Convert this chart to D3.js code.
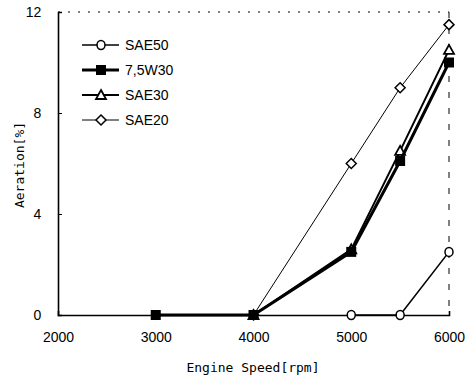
<!DOCTYPE html>
<html>
<head>
<meta charset="utf-8">
<script src="https://cdn.jsdelivr.net/npm/d3@7"></script>
<style>
  body { margin: 0; background: #fff; }
  text { fill: #000; }
</style>
</head>
<body>
<svg id="chart" width="467" height="381"></svg>
<script>
const speeds = [2000, 3000, 4000, 5000, 5500, 6000];
const sae50 = [0, 0, 0, 0, 0, 2.5];
const w30 = [0, 0, 0, 2.5, 6.1, 10];
const sae30 = [0, 0, 0, 2.6, 6.5, 10.5];
const sae20 = [0, 0, 0, 6, 9, 11.5];
const xTicks = [2000, 3000, 4000, 5000, 6000];
const yTicks = [0, 4, 8, 12];

const series = [
  { name: 'SAE50', values: sae50, marker: 'circle', width: 1.6, from: 3 },
  { name: '7,5W30', values: w30, marker: 'square', width: 3, from: 1 },
  { name: 'SAE30', values: sae30, marker: 'triangle', width: 2, from: 2 },
  { name: 'SAE20', values: sae20, marker: 'diamond', width: 1, from: 2 }
];

const sans = '"Liberation Sans", Arial, sans-serif';
const mono = '"DejaVu Sans Mono", monospace';

const svg = d3.select('#chart');
const x = d3.scaleLinear().domain([2000, 6000]).range([58, 449]);
const y = d3.scaleLinear().domain([0, 12]).range([315, 12]);

// frame: top and right dashed
svg.append('line').attr('x1', x(2000)).attr('x2', x(6000)).attr('y1', y(12)).attr('y2', y(12))
  .attr('stroke', '#000').attr('stroke-dasharray', '2,8');
svg.append('line').attr('x1', x(6000)).attr('x2', x(6000)).attr('y1', y(12)).attr('y2', y(0))
  .attr('stroke', '#000').attr('stroke-dasharray', '6,10');

const yAxis = svg.append('g').attr('transform', `translate(${x(2000)},0)`)
  .call(d3.axisLeft(y).tickValues(yTicks).tickSize(-4).tickPadding(14).tickFormat(d3.format('d')));
const xAxis = svg.append('g').attr('transform', `translate(0,${y(0)})`)
  .call(d3.axisBottom(x).tickValues(xTicks).tickSize(-4).tickPadding(14).tickFormat(d3.format('d')));
[yAxis, xAxis].forEach(a => {
  a.select('.domain').attr('stroke-width', 1.6);
  a.selectAll('text').style('font-size', '14px').style('font-family', sans);
});
xAxis.selectAll('.tick text').attr('dy', '0.9em');
yAxis.selectAll('.tick text').attr('dx', '-0.2em');

svg.append('text').attr('x', 253).attr('y', 372).attr('text-anchor', 'middle')
  .style('font-size', '13px').style('font-family', mono).text('Engine Speed[rpm]');
svg.append('text').attr('transform', 'translate(24,165) rotate(-90)').attr('text-anchor', 'middle')
  .style('font-size', '13px').style('font-family', mono).text('Aeration[%]');

function drawMarker(g, type, cx, cy) {
  if (type === 'circle') {
    g.append('ellipse').attr('cx', cx).attr('cy', cy).attr('rx', 4).attr('ry', 4.5)
      .attr('fill', '#fff').attr('stroke', '#000').attr('stroke-width', 1.5);
  } else if (type === 'square') {
    g.append('rect').attr('x', cx - 5).attr('y', cy - 5).attr('width', 10).attr('height', 10)
      .attr('fill', '#000');
  } else if (type === 'triangle') {
    g.append('path').attr('d', `M${cx},${cy - 5}L${cx + 5},${cy + 4}L${cx - 5},${cy + 4}Z`)
      .attr('fill', '#fff').attr('stroke', '#000').attr('stroke-width', 1.8);
  } else {
    g.append('path').attr('d', `M${cx},${cy - 5}L${cx + 5},${cy}L${cx},${cy + 5}L${cx - 5},${cy}Z`)
      .attr('fill', '#fff').attr('stroke', '#000').attr('stroke-width', 1.5);
  }
}

const line = d3.line().x(d => x(d[0])).y(d => y(d[1]));
// draw SAE50 last so its circles sit on top of the axis markers
[series[3], series[2], series[1], series[0]].forEach(s => {
  const pts = speeds.map((v, i) => [v, s.values[i]]);
  const g = svg.append('g');
  g.append('path').attr('d', line(pts.slice(s.from))).attr('fill', 'none')
    .attr('stroke', '#000').attr('stroke-width', s.width);
  pts.slice(s.from).forEach(p => drawMarker(g, s.marker, x(p[0]), y(p[1])));
});

// legend
const legend = svg.append('g');
series.forEach((s, i) => {
  const ly = 45 + i * 25;
  legend.append('line').attr('x1', 82).attr('x2', 119).attr('y1', ly).attr('y2', ly)
    .attr('stroke', '#000').attr('stroke-width', s.width);
  drawMarker(legend, s.marker, 101, ly);
  legend.append('text').attr('x', 125).attr('y', ly + 5)
    .style('font-size', '14px').style('font-family', sans).text(s.name);
});
</script>
</body>
</html>
